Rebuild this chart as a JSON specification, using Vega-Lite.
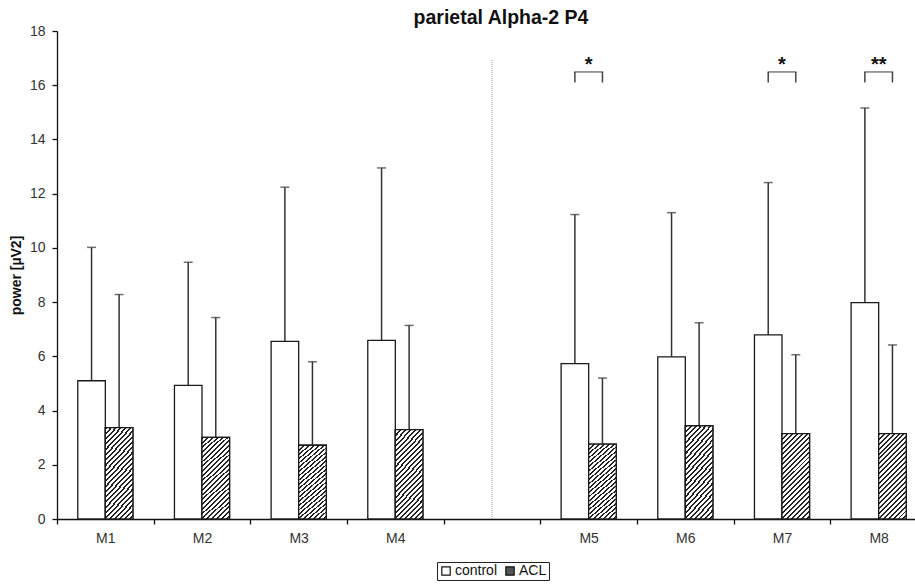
{
  "$schema": "https://vega.github.io/schema/vega-lite/v6.json",
  "width": 858,
  "height": 488,
  "autosize": {"type": "none"},
  "padding": {"left": 57, "top": 31, "right": 0, "bottom": 66},
  "background": "white",
  "config": {
    "font": "Liberation Sans",
    "view": {"stroke": null},
    "axis": {"labelFont": "Liberation Sans", "titleFont": "Liberation Sans", "grid": false, "domainColor": "#111", "tickColor": "#111", "labelColor": "#333", "domainWidth": 1.3, "tickWidth": 1.3}
  },
  "title": {"text": "parietal Alpha-2 P4", "fontSize": 19.5, "fontWeight": "bold", "font": "Liberation Sans", "anchor": "middle", "dx": 15, "offset": -4, "color": "#111"},
  "datasets": {
    "bars": [
      {"m": "M1", "group": "control", "mean": 5.10, "upper": 10.02},
      {"m": "M1", "group": "ACL", "mean": 3.37, "upper": 8.28},
      {"m": "M2", "group": "control", "mean": 4.93, "upper": 9.47},
      {"m": "M2", "group": "ACL", "mean": 3.01, "upper": 7.43},
      {"m": "M3", "group": "control", "mean": 6.55, "upper": 12.24},
      {"m": "M3", "group": "ACL", "mean": 2.72, "upper": 5.80},
      {"m": "M4", "group": "control", "mean": 6.59, "upper": 12.95},
      {"m": "M4", "group": "ACL", "mean": 3.30, "upper": 7.14},
      {"m": "M5", "group": "control", "mean": 5.73, "upper": 11.23},
      {"m": "M5", "group": "ACL", "mean": 2.76, "upper": 5.20},
      {"m": "M6", "group": "control", "mean": 5.98, "upper": 11.30},
      {"m": "M6", "group": "ACL", "mean": 3.44, "upper": 7.24},
      {"m": "M7", "group": "control", "mean": 6.79, "upper": 12.41},
      {"m": "M7", "group": "ACL", "mean": 3.15, "upper": 6.06},
      {"m": "M8", "group": "control", "mean": 7.98, "upper": 15.16},
      {"m": "M8", "group": "ACL", "mean": 3.15, "upper": 6.42}
    ],
    "sig": [
      {"m": "M5", "label": "*", "top": 16.49, "bottom": 16.1},
      {"m": "M7", "label": "*", "top": 16.49, "bottom": 16.1},
      {"m": "M8", "label": "**", "top": 16.49, "bottom": 16.1}
    ],
    "legs": [
      {"m": "M5", "group": "control", "top": 16.49, "bottom": 16.1},
      {"m": "M5", "group": "ACL", "top": 16.49, "bottom": 16.1},
      {"m": "M7", "group": "control", "top": 16.49, "bottom": 16.1},
      {"m": "M7", "group": "ACL", "top": 16.49, "bottom": 16.1},
      {"m": "M8", "group": "control", "top": 16.49, "bottom": 16.1},
      {"m": "M8", "group": "ACL", "top": 16.49, "bottom": 16.1}
    ],
    "divider": [{"m": "gap", "y0": 0, "y1": 16.95}]
  },
  "encoding": {
    "x": {
      "field": "m", "type": "nominal",
      "scale": {"domain": ["M1", "M2", "M3", "M4", "gap", "M5", "M6", "M7", "M8"], "range": [0, 870], "paddingInner": 0, "paddingOuter": 0},
      "axis": {"title": null, "labelAngle": 0, "labelFontSize": 14, "tickBand": "extent", "tickSize": 5, "labelPadding": 7, "labelExpr": "datum.value == 'gap' ? '' : datum.value"}
    }
  },
  "layer": [
    {
      "data": {"name": "divider"},
      "mark": {"type": "rule", "color": "#9a9a9a", "strokeWidth": 1, "strokeDash": [1, 1]},
      "encoding": {
        "y": {"field": "y0", "type": "quantitative"},
        "y2": {"field": "y1"}
      }
    },
    {
      "data": {"name": "bars"},
      "mark": {"type": "rule", "color": "#333", "strokeWidth": 1.5},
      "encoding": {
        "xOffset": {"field": "group", "type": "nominal", "scale": {"domain": ["control", "ACL"], "paddingInner": 0, "paddingOuter": 0.754}},
        "y": {"field": "mean", "type": "quantitative"},
        "y2": {"field": "upper"}
      }
    },
    {
      "data": {"name": "bars"},
      "mark": {"type": "tick", "color": "#333", "thickness": 1.5, "size": 9, "orient": "horizontal"},
      "encoding": {
        "xOffset": {"field": "group", "type": "nominal"},
        "y": {"field": "upper", "type": "quantitative"}
      }
    },
    {
      "data": {"name": "bars"},
      "mark": {"type": "bar", "stroke": "#1a1a1a", "strokeWidth": 1.3},
      "encoding": {
        "xOffset": {"field": "group", "type": "nominal"},
        "y": {
          "field": "mean", "type": "quantitative",
          "scale": {"domain": [0, 18], "nice": false},
          "axis": {"title": "power [µV2]", "titleFontSize": 14, "titleFontWeight": "bold", "titleColor": "#111", "values": [0, 2, 4, 6, 8, 10, 12, 14, 16, 18], "labelFontSize": 14, "tickSize": 5, "labelPadding": 7, "titlePadding": 6}
        },
        "fill": {
          "field": "group", "type": "nominal",
          "scale": {"domain": ["control", "ACL"], "range": ["#ffffff", "#555555"]},
          "legend": {"title": null, "orient": "none", "legendX": 380, "legendY": 531, "direction": "horizontal", "strokeColor": "#222", "padding": 2, "symbolType": "square", "symbolSize": 70, "symbolStrokeColor": "#111", "symbolStrokeWidth": 1.2, "symbolOpacity": 1, "labelFontSize": 14, "labelFont": "Liberation Sans", "labelColor": "#111", "columnPadding": 5, "symbolOffset": 0, "labelOffset": 2}
        }
      }
    },
    {
      "data": {"name": "bars"},
      "transform": [{"filter": "datum.group === 'ACL'"}],
      "mark": {"type": "bar", "stroke": "#1a1a1a", "strokeWidth": 1.3,
        "fill": {"gradient": "linear", "x1": 0, "y1": 0, "x2": 1, "y2": 3.1, "stops": [
            {"offset": 0, "color": "#222"}, {"offset": 0.0068, "color": "#222"}, {"offset": 0.0068, "color": "#fff"}, {"offset": 0.0169, "color": "#fff"},
            {"offset": 0.0169, "color": "#222"}, {"offset": 0.0237, "color": "#222"}, {"offset": 0.0237, "color": "#fff"}, {"offset": 0.0338, "color": "#fff"},
            {"offset": 0.0338, "color": "#222"}, {"offset": 0.0406, "color": "#222"}, {"offset": 0.0406, "color": "#fff"}, {"offset": 0.0507, "color": "#fff"},
            {"offset": 0.0507, "color": "#222"}, {"offset": 0.0575, "color": "#222"}, {"offset": 0.0575, "color": "#fff"}, {"offset": 0.0676, "color": "#fff"},
            {"offset": 0.0676, "color": "#222"}, {"offset": 0.0744, "color": "#222"}, {"offset": 0.0744, "color": "#fff"}, {"offset": 0.0845, "color": "#fff"},
            {"offset": 0.0845, "color": "#222"}, {"offset": 0.0913, "color": "#222"}, {"offset": 0.0913, "color": "#fff"}, {"offset": 0.1014, "color": "#fff"},
            {"offset": 0.1014, "color": "#222"}, {"offset": 0.1082, "color": "#222"}, {"offset": 0.1082, "color": "#fff"}, {"offset": 0.1183, "color": "#fff"},
            {"offset": 0.1183, "color": "#222"}, {"offset": 0.1251, "color": "#222"}, {"offset": 0.1251, "color": "#fff"}, {"offset": 0.1352, "color": "#fff"},
            {"offset": 0.1352, "color": "#222"}, {"offset": 0.142, "color": "#222"}, {"offset": 0.142, "color": "#fff"}, {"offset": 0.1521, "color": "#fff"},
            {"offset": 0.1521, "color": "#222"}, {"offset": 0.1589, "color": "#222"}, {"offset": 0.1589, "color": "#fff"}, {"offset": 0.169, "color": "#fff"},
            {"offset": 0.169, "color": "#222"}, {"offset": 0.1758, "color": "#222"}, {"offset": 0.1758, "color": "#fff"}, {"offset": 0.1859, "color": "#fff"},
            {"offset": 0.1859, "color": "#222"}, {"offset": 0.1927, "color": "#222"}, {"offset": 0.1927, "color": "#fff"}, {"offset": 0.2028, "color": "#fff"},
            {"offset": 0.2028, "color": "#222"}, {"offset": 0.2096, "color": "#222"}, {"offset": 0.2096, "color": "#fff"}, {"offset": 0.2197, "color": "#fff"},
            {"offset": 0.2197, "color": "#222"}, {"offset": 0.2265, "color": "#222"}, {"offset": 0.2265, "color": "#fff"}, {"offset": 0.2366, "color": "#fff"},
            {"offset": 0.2366, "color": "#222"}, {"offset": 0.2434, "color": "#222"}, {"offset": 0.2434, "color": "#fff"}, {"offset": 0.2535, "color": "#fff"},
            {"offset": 0.2535, "color": "#222"}, {"offset": 0.2603, "color": "#222"}, {"offset": 0.2603, "color": "#fff"}, {"offset": 0.2704, "color": "#fff"},
            {"offset": 0.2704, "color": "#222"}, {"offset": 0.2772, "color": "#222"}, {"offset": 0.2772, "color": "#fff"}, {"offset": 0.2873, "color": "#fff"},
            {"offset": 0.2873, "color": "#222"}, {"offset": 0.2941, "color": "#222"}, {"offset": 0.2941, "color": "#fff"}, {"offset": 0.3042, "color": "#fff"},
            {"offset": 0.3042, "color": "#222"}, {"offset": 0.311, "color": "#222"}, {"offset": 0.311, "color": "#fff"}, {"offset": 0.3211, "color": "#fff"},
            {"offset": 0.3211, "color": "#222"}, {"offset": 0.3279, "color": "#222"}, {"offset": 0.3279, "color": "#fff"}, {"offset": 0.338, "color": "#fff"},
            {"offset": 0.338, "color": "#222"}, {"offset": 0.3448, "color": "#222"}, {"offset": 0.3448, "color": "#fff"}, {"offset": 0.3549, "color": "#fff"},
            {"offset": 0.3549, "color": "#222"}, {"offset": 0.3617, "color": "#222"}, {"offset": 0.3617, "color": "#fff"}, {"offset": 0.3718, "color": "#fff"},
            {"offset": 0.3718, "color": "#222"}, {"offset": 0.3786, "color": "#222"}, {"offset": 0.3786, "color": "#fff"}, {"offset": 0.3887, "color": "#fff"},
            {"offset": 0.3887, "color": "#222"}, {"offset": 0.3955, "color": "#222"}, {"offset": 0.3955, "color": "#fff"}, {"offset": 0.4056, "color": "#fff"},
            {"offset": 0.4056, "color": "#222"}, {"offset": 0.4124, "color": "#222"}, {"offset": 0.4124, "color": "#fff"}, {"offset": 0.4225, "color": "#fff"},
            {"offset": 0.4225, "color": "#222"}, {"offset": 0.4293, "color": "#222"}, {"offset": 0.4293, "color": "#fff"}, {"offset": 0.4394, "color": "#fff"},
            {"offset": 0.4394, "color": "#222"}, {"offset": 0.4462, "color": "#222"}, {"offset": 0.4462, "color": "#fff"}, {"offset": 1, "color": "#fff"}
          ]}},
      "encoding": {
        "xOffset": {"field": "group", "type": "nominal"},
        "y": {"field": "mean", "type": "quantitative"}
      }
    },
    {
      "data": {"name": "legs"},
      "mark": {"type": "rule", "color": "#444", "strokeWidth": 1.5},
      "encoding": {
        "xOffset": {"field": "group", "type": "nominal"},
        "y": {"field": "bottom", "type": "quantitative"},
        "y2": {"field": "top"}
      }
    },
    {
      "data": {"name": "sig"},
      "mark": {"type": "tick", "color": "#444", "thickness": 1.5, "size": 29, "orient": "horizontal"},
      "encoding": {
        "y": {"field": "top", "type": "quantitative"}
      }
    },
    {
      "data": {"name": "sig"},
      "mark": {"type": "text", "fontSize": 20, "fontWeight": "bold", "baseline": "alphabetic", "font": "Liberation Sans", "color": "#111", "dy": -1},
      "encoding": {
        "y": {"field": "top", "type": "quantitative"},
        "text": {"field": "label"}
      }
    }
  ]
}
